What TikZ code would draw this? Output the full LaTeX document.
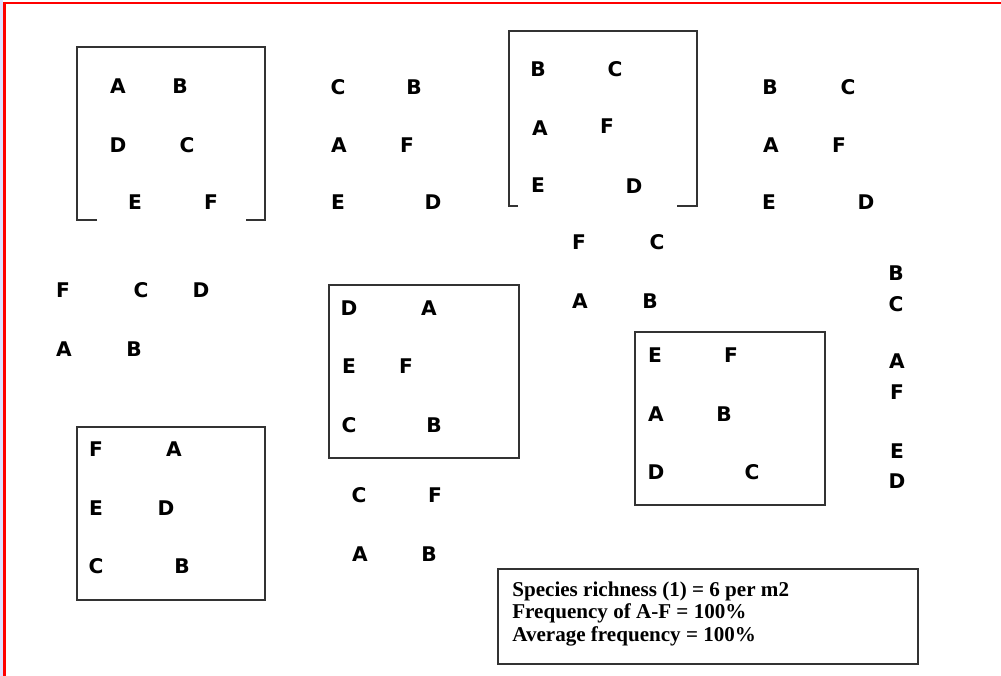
\documentclass[tikz,border=0pt]{standalone}
\usepackage{fontspec}
\setmainfont{DejaVu Sans}
\newfontfamily\legendfont{Liberation Serif}
\begin{document}
\begin{tikzpicture}[x=0.02cm,y=-0.02cm,
  sp/.style={font=\fontsize{11.5}{13}\selectfont\bfseries, inner sep=0pt},
  quad/.style={draw=black!80, line width=0.9pt}]
\useasboundingbox (0,0) rectangle (1001,676);
\fill[blue!12] (0,0) rectangle (3.5,676);
\draw[red, line width=1.3pt] (4.5,676) -- (4.5,3) -- (1001,3);
% box 1 (open bottom)
\draw[quad] (97,220) -- (77,220) -- (77,47) -- (265,47) -- (265,220) -- (246,220);
\node[sp] (b1a) at (118,86) {A}; \node[sp] (b1b) at (180,86) {B};
\node[sp] (b1d) at (118,145) {D}; \node[sp] (b1c) at (187,145) {C};
\node[sp] (b1e) at (135,202) {E}; \node[sp] (b1f) at (211,202) {F};
% group 2
\node[sp] (g2c) at (338,87) {C}; \node[sp] (g2b) at (414,87) {B};
\node[sp] (g2a) at (339,145) {A}; \node[sp] (g2f) at (407,145) {F};
\node[sp] (g2e) at (338,202) {E}; \node[sp] (g2d) at (433,202) {D};
% box 3 (open bottom)
\draw[quad] (518,206) -- (509,206) -- (509,31) -- (697,31) -- (697,206) -- (677,206);
\node[sp] (b3b) at (538,69) {B}; \node[sp] (b3c) at (615,69) {C};
\node[sp] (b3a) at (540,128) {A}; \node[sp] (b3f) at (607,126) {F};
\node[sp] (b3e) at (538,185) {E}; \node[sp] (b3d) at (634,186) {D};
% group 4
\node[sp] (g4b) at (770,87) {B}; \node[sp] (g4c) at (848,87) {C};
\node[sp] (g4a) at (771,145) {A}; \node[sp] (g4f) at (839,145) {F};
\node[sp] (g4e) at (769,202) {E}; \node[sp] (g4d) at (866,202) {D};
% group 5
\node[sp] (g5f) at (579,242) {F}; \node[sp] (g5c) at (657,242) {C};
\node[sp] (g5a) at (580,301) {A}; \node[sp] (g5b) at (650,301) {B};
% group 6
\node[sp] (g6f) at (63,290) {F}; \node[sp] (g6c) at (141,290) {C}; \node[sp] (g6d) at (201,290) {D};
\node[sp] (g6a) at (64,349) {A}; \node[sp] (g6b) at (134,349) {B};
% box 7
\draw[quad] (329,285) rectangle (519,458);
\node[sp] (b7d) at (349,308) {D}; \node[sp] (b7a) at (429,308) {A};
\node[sp] (b7e) at (349,366) {E}; \node[sp] (b7f) at (406,366) {F};
\node[sp] (b7c) at (349,425) {C}; \node[sp] (b7b) at (434,425) {B};
% box 8
\draw[quad] (635,332) rectangle (825,505);
\node[sp] (b8e) at (655,355) {E}; \node[sp] (b8f) at (731,355) {F};
\node[sp] (b8a) at (656,414) {A}; \node[sp] (b8b) at (724,414) {B};
\node[sp] (b8d) at (656,472) {D}; \node[sp] (b8c) at (752,472) {C};
% group 9 (vertical)
\node[sp] (g9b) at (896,273) {B}; \node[sp] (g9c) at (896,304) {C};
\node[sp] (g9a) at (897,361) {A}; \node[sp] (g9f) at (897,392) {F};
\node[sp] (g9e) at (897,451) {E}; \node[sp] (g9d) at (897,481) {D};
% box 10
\draw[quad] (77,427) rectangle (265,600);
\node[sp] (b10f) at (96,449) {F}; \node[sp] (b10a) at (174,449) {A};
\node[sp] (b10e) at (96,508) {E}; \node[sp] (b10d) at (166,508) {D};
\node[sp] (b10c) at (96,566) {C}; \node[sp] (b10b) at (182,566) {B};
% group 11
\node[sp] (g11c) at (359,495) {C}; \node[sp] (g11f) at (435,495) {F};
\node[sp] (g11a) at (360,554) {A}; \node[sp] (g11b) at (429,554) {B};
% legend
\draw[quad] (498,569) rectangle (918,664);
\node[anchor=west, align=left, inner sep=0pt, font=\legendfont\bfseries\fontsize{12}{13}\selectfont] (leg) at (512,614)
  {Species richness (1) = 6 per m2\\Frequency of A-F = 100\%\\Average frequency = 100\%};
\end{tikzpicture}
\end{document}
